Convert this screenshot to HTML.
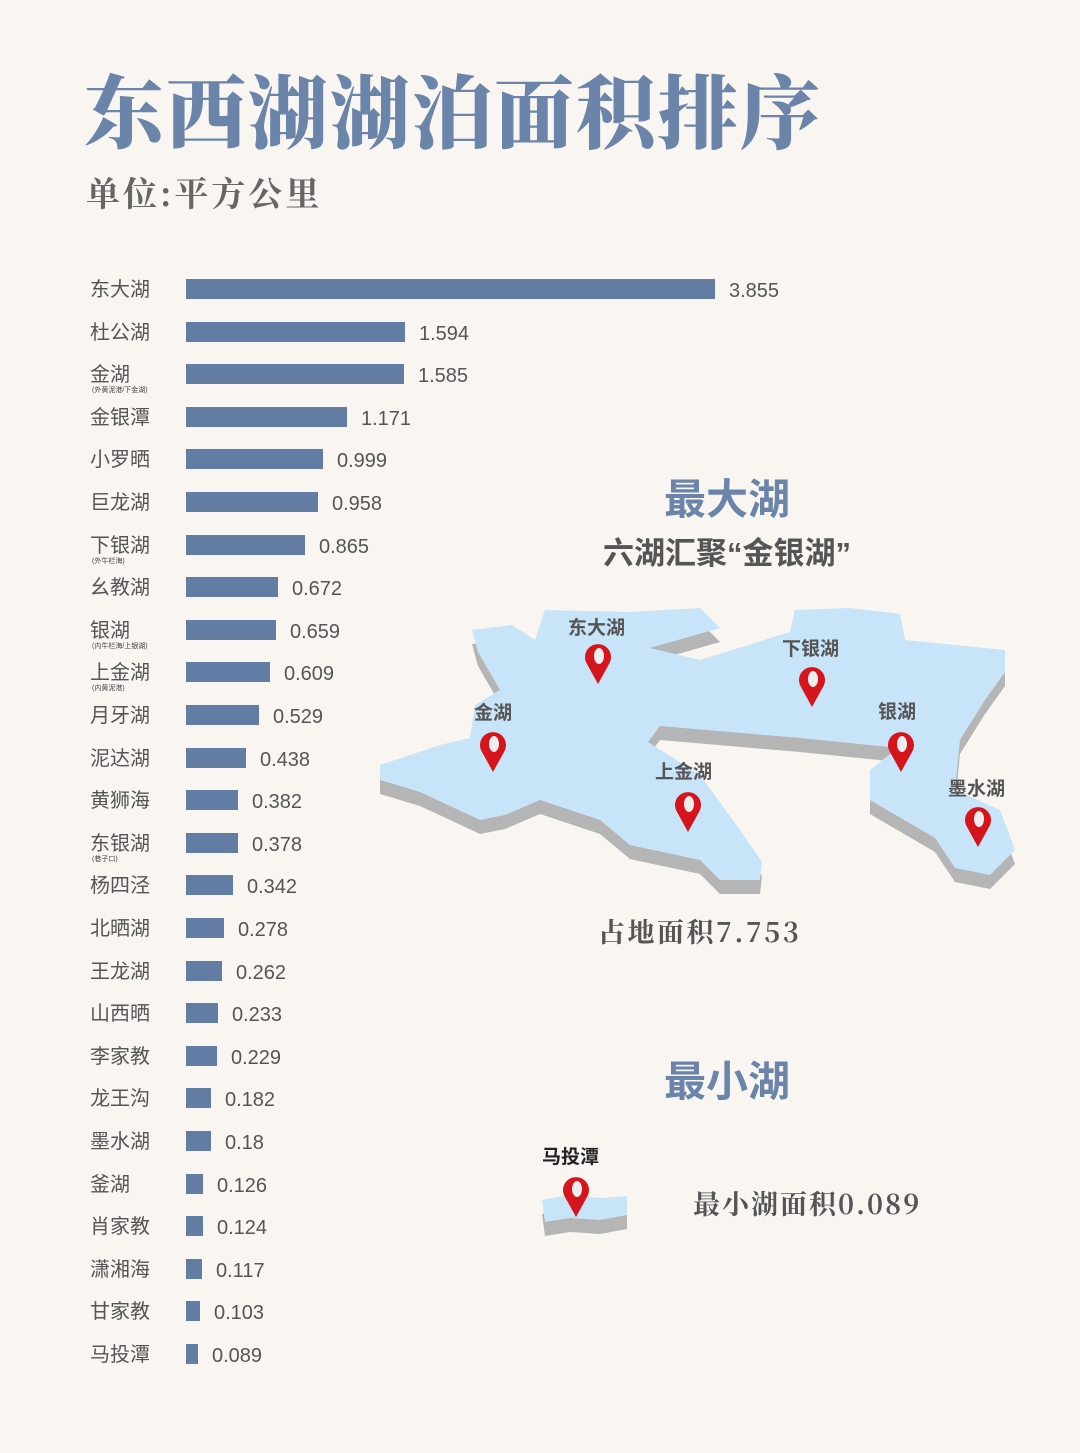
<!DOCTYPE html>
<html><head><meta charset="utf-8"><style>
body{margin:0;background:#f9f5f1;}
#c{position:relative;width:1080px;height:1453px;background:#f9f5f1;overflow:hidden;font-family:"Liberation Sans","Noto Sans CJK SC",sans-serif;}
.t{position:absolute;white-space:nowrap;}
.lab{position:absolute;left:90px;font-size:20px;color:#555;line-height:20px;}
.sub{position:absolute;left:92px;font-size:7px;color:#444;line-height:8px;}
.bar{position:absolute;left:186px;height:20px;background:#627ca3;}
.val{position:absolute;font-size:20px;color:#555;line-height:20px;}
</style></head><body><div id="c">
<div class="t" style="left:84px;top:60px;font-family:'Noto Serif CJK SC',serif;font-weight:900;font-size:80px;color:#6b84a9;letter-spacing:2px;line-height:96px;">东西湖湖泊面积排序</div>
<div class="t" style="left:86px;top:172px;font-family:'Noto Serif CJK SC',serif;font-weight:700;font-size:34px;color:#666;line-height:40px;letter-spacing:3px;">单位:平方公里</div>
<div id="bars"></div>

<div class="t" style="left:627px;top:474px;width:200px;text-align:center;font-weight:700;font-size:42px;color:#6b84a9;line-height:52px;">最大湖</div>
<div class="t" style="left:577px;top:535px;width:300px;text-align:center;font-weight:700;font-size:31px;color:#555;line-height:38px;">六湖汇聚“金银湖”</div>

<svg class="t" style="left:0;top:0" width="1080" height="1453">
<g transform="translate(0,14)" fill="#b5b5b5">
<polygon id="lk" points="380,765 440,745 470,738 475,705 500,690 478,652 472,630 512,625 535,640 545,610 630,612 700,608 720,628 650,648 700,660 790,632 795,610 850,608 900,614 905,640 1005,650 1005,672 985,700 960,740 955,790 1000,810 1015,850 990,875 955,868 935,838 870,800 870,770 898,748 800,738 660,726 648,742 700,775 740,830 762,862 760,880 720,880 700,860 630,845 600,820 540,800 505,815 480,820 420,792 380,780"/>
</g>
<use href="#lk" fill="#c7e4f8"/>
<g fill="#555" font-size="19" font-family="Liberation Sans,Noto Sans CJK SC,sans-serif" font-weight="700">
<text x="568" y="634">东大湖</text><text x="782" y="655">下银湖</text><text x="474" y="719">金湖</text>
<text x="878" y="718">银湖</text><text x="655" y="778">上金湖</text><text x="948" y="795">墨水湖</text>
<text x="542" y="1163" fill="#222">马投潭</text>
</g>
<g transform="translate(0,14)" fill="#b5b5b5"><polygon points="542,1200 570,1195 600,1198 627,1196 627,1215 600,1220 570,1218 545,1222"/></g>
<polygon points="542,1200 570,1195 600,1198 627,1196 627,1215 600,1220 570,1218 545,1222" fill="#c7e4f8"/>
<g id="pins" fill="#d6141c"></g>
</svg>

<div class="t" style="left:598px;top:912px;font-family:'Noto Serif CJK SC',serif;font-weight:700;font-size:27px;color:#555;line-height:38px;letter-spacing:2.5px;">占地面积7.753</div>
<div class="t" style="left:627px;top:1056px;width:200px;text-align:center;font-weight:700;font-size:42px;color:#6b84a9;line-height:52px;">最小湖</div>
<div class="t" style="left:693px;top:1184px;font-family:'Noto Serif CJK SC',serif;font-weight:700;font-size:27px;color:#555;line-height:38px;letter-spacing:2px;">最小湖面积0.089</div>
<script>
var d=[["东大湖",3.855],["杜公湖",1.594],["金湖",1.585,"(外黄泥港/下金湖)"],["金银潭",1.171],["小罗晒",0.999],["巨龙湖",0.958],["下银湖",0.865,"(外牛栏海)"],["幺教湖",0.672],["银湖",0.659,"(内牛栏海/上银湖)"],["上金湖",0.609,"(内黄泥港)"],["月牙湖",0.529],["泥达湖",0.438],["黄狮海",0.382],["东银湖",0.378,"(巷子口)"],["杨四泾",0.342],["北晒湖",0.278],["王龙湖",0.262],["山西晒",0.233],["李家教",0.229],["龙王沟",0.182],["墨水湖",0.18],["釜湖",0.126],["肖家教",0.124],["潇湘海",0.117],["甘家教",0.103],["马投潭",0.089]];
var h="";d.forEach(function(r,i){var y=289+i*42.6;var w=Math.round(r[1]*137.3);
h+='<div class="lab" style="top:'+(y-9)+'px">'+r[0]+'</div>';
if(r[2])h+='<div class="sub" style="top:'+(y+13)+'px">'+r[2]+'</div>';
h+='<div class="bar" style="top:'+(y-10)+'px;width:'+w+'px"></div>';
h+='<div class="val" style="top:'+(y-8)+'px;left:'+(186+w+14)+'px">'+r[1]+'</div>';});
document.getElementById("bars").innerHTML=h;
var p=[[598,684],[812,707],[493,772],[901,772],[688,832],[978,847],[576,1217]];var s="";
p.forEach(function(q){var x=q[0],y=q[1];s+='<path d="M'+x+' '+y+' L'+(x-11)+' '+(y-20)+' A13 13 0 1 1 '+(x+11)+' '+(y-20)+' Z"/><ellipse cx="'+(x+1)+'" cy="'+(y-28)+'" rx="5" ry="8" fill="#eee"/>';});
document.getElementById("pins").innerHTML=s;
</script>
</div></body></html>
